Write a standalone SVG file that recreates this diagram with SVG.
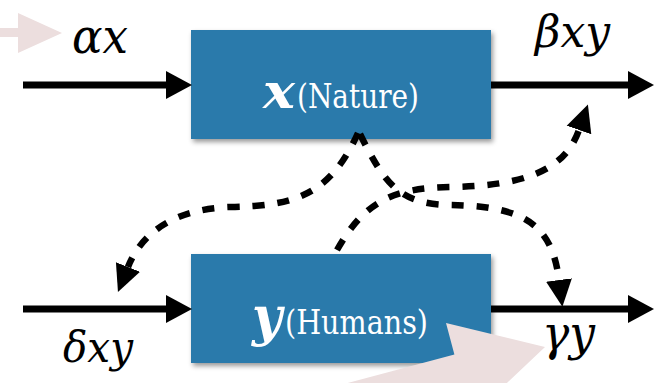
<svg xmlns="http://www.w3.org/2000/svg" width="654" height="383" viewBox="0 0 654 383">
<style>
.box{fill:#2c7aab;}
.lbl{fill:#ffffff;font-size:33px;font-family:'DejaVu Serif','Liberation Serif',serif;}
.mv{fill:#ffffff;font-style:italic;font-weight:bold;font-family:'DejaVu Serif','Liberation Serif',serif;}
.math{font-style:italic;fill:#000000;font-family:'DejaVu Serif','Liberation Serif',serif;}
.solid{stroke:#000;stroke-width:7;fill:none;}
.dash{stroke:#000;stroke-width:6.5;fill:none;stroke-dasharray:12 13;marker-end:url(#dh);}
.head{fill:#000;}
.pink{fill:#ecdede;}
</style>
<defs>
<filter id="sh" x="-5%" y="-10%" width="115%" height="130%">
<feDropShadow dx="2" dy="3" stdDeviation="2.5" flood-color="#000" flood-opacity="0.4"/>
</filter>
<marker id="dh" markerUnits="userSpaceOnUse" markerWidth="30" markerHeight="30" viewBox="0 -15 30 30" refX="0" refY="0" orient="auto">
<path d="M0,-13 L27,0 L0,13 Z" fill="#000"/>
</marker>
</defs>
<rect width="654" height="383" fill="#ffffff"/>
<g id="node-x">
<rect class="box" x="191" y="30" width="300" height="109" filter="url(#sh)"/>
<text class="mv" x="263" y="108" font-size="48" textLength="32" lengthAdjust="spacingAndGlyphs">x</text>
<text class="lbl" x="297" y="108" textLength="122" lengthAdjust="spacingAndGlyphs">(Nature)</text>
</g>
<g id="node-y">
<rect class="box" x="191" y="254" width="300" height="109" filter="url(#sh)"/>
<text class="mv" x="252" y="335" font-size="54" textLength="30" lengthAdjust="spacingAndGlyphs">y</text>
<text class="lbl" x="285" y="334" textLength="143" lengthAdjust="spacingAndGlyphs">(Humans)</text>
</g>
<g id="pink-arrows">
<polygon class="pink" points="-10,28 18,28 18,13 62,33 18,53 18,37 -10,37"/>
<polygon class="pink" points="154.4,434.8 454.4,354.4 446,323 545,347 471,417 462.8,386 162.8,466.4"/>
</g>
<g id="connectors">
<line class="solid" x1="23" y1="85" x2="168" y2="85"/>
<polygon class="head" points="166,71 192,85 166,99"/>
<line class="solid" x1="491" y1="85" x2="630" y2="85"/>
<polygon class="head" points="628,71 654,85 628,99"/>
<line class="solid" x1="23" y1="309" x2="168" y2="309"/>
<polygon class="head" points="166,295 192,309 166,323"/>
<line class="solid" x1="491" y1="309" x2="630" y2="309"/>
<polygon class="head" points="628,295 654,309 628,323"/>
<path class="dash" d="M358,133 C330,195 295,206 230,207 C175,209 142,232 128,267"/>
<path class="dash" d="M360,134 C385,185 400,204 450,205 C525,206 552,225 559,280"/>
<path class="dash" d="M337,250 C365,200 395,188 450,187 C525,186 565,170 579,130"/>
</g>
<g id="labels">
<text class="math" x="72" y="53" font-size="48" textLength="56" lengthAdjust="spacingAndGlyphs">αx</text>
<text class="math" x="535" y="47" font-size="44" textLength="75" lengthAdjust="spacingAndGlyphs">βxy</text>
<text class="math" x="63" y="362" font-size="42" textLength="70" lengthAdjust="spacingAndGlyphs">δxy</text>
<text class="math" x="542" y="350" font-size="48" textLength="53" lengthAdjust="spacingAndGlyphs">γy</text>
</g>
</svg>
